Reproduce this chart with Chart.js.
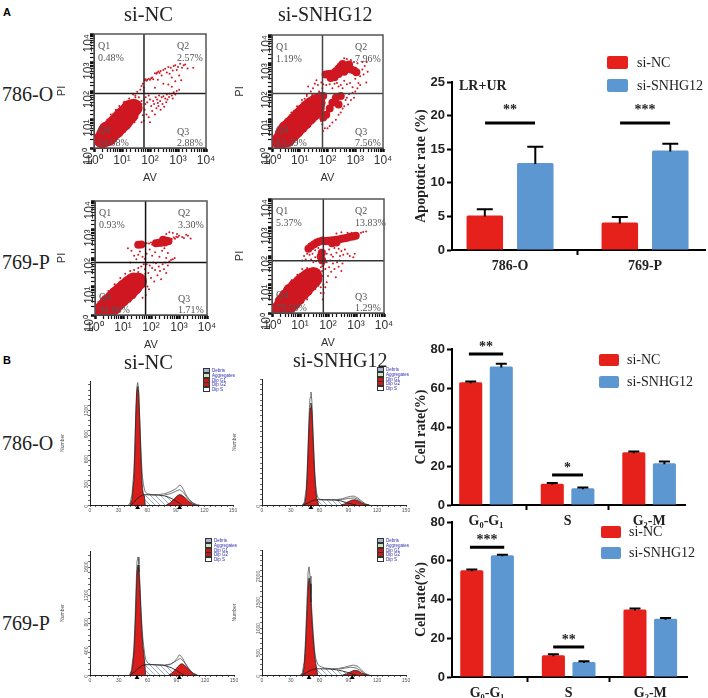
<!DOCTYPE html>
<html>
<head>
<meta charset="utf-8">
<title>si-SNHG12</title>
<script src="https://cdn.jsdelivr.net/npm/chart.js"></script>
<style>
  html, body { margin: 0; padding: 0; background: #fff; }
  #page { position: relative; width: 708px; height: 698px; overflow: hidden; }
  #page canvas { position: absolute; }
  .txt { position: absolute; white-space: nowrap; line-height: 1; transform: translateY(-50%); }
  .serif { font-family: "Liberation Serif", serif; color: #222; }
  .swatch { position: absolute; border-radius: 2px; }
  .tiny { font: 4.5px "Liberation Sans", sans-serif; color: #2b2bb0; }
  .tinybox { position: absolute; width: 5px; height: 3px; border: 1px solid #333; }
</style>
</head>
<body>
<div id="page"></div>
<script>
// --- bar chart data ---
const seriesNames = ['si-NC', 'si-SNHG12'];
const apoCats = ['786-O', '769-P'];
const apoNC = [5.15, 4.1];
const apoSN = [12.95, 14.8];
const apoNCErr = [0.9, 0.8];
const apoSNErr = [2.4, 1.0];
const cycleCats = ['G₀-G₁', 'S', 'G₂-M'];
const cyc786NC = [63, 10.9, 27];
const cyc786SN = [71, 8.6, 21.4];
const cyc786NCErr = [0.3, 0.4, 0.4];
const cyc786SNErr = [1.4, 0.4, 0.9];
const cyc769NC = [55.1, 11.2, 34.8];
const cyc769SN = [62.8, 7.8, 30.1];
const cyc769NCErr = [0.4, 0.5, 0.5];
const cyc769SNErr = [0.3, 0.3, 0.3];

// --- flow cytometry data, [AV, PI] ---
const decadeLabels = ['10⁰', '10¹', '10²', '10³', '10⁴'];

const a1Core = [[2,2],[2.5,3],[3.2,2.4],[3,4.2],[4.3,3.4],[4.5,5.5],[6,4.4],[6,7.5],[8,6],[8,10],[11,8],[10,13],[14,11],[14,17],[19,15],[19,24],[26,26]];
const a1Sparse = [[65,240],[70,260],[75,230],[80,250],[90,270],[100,250],[110,280],[120,300],[130,260],[150,420],[170,400],[180,450],[200,480],[220,430],[240,500],[190,250],[260,350],[300,550],[350,600],[400,450],[450,700],[500,400],[550,650],[600,300],[650,520],[700,750],[800,800],[900,550],[1000,700],[1200,900],[1400,650],[1600,800],[1800,850],[2200,620],[3500,650],[300,180],[450,170],[600,140],[800,220],[150,130],[1100,350],[1300,240],
  [70,60],[80,40],[90,70],[100,50],[110,30],[120,20],[130,45],[140,35],[150,15],[160,60],[170,25],[180,50],[190,38],[200,30],[210,70],[230,45],[240,22],[260,60],[280,35],[300,65],[320,28],[350,55],[380,40],[400,75],[420,50],[480,62],[500,80],[600,70],[650,55],[700,90],[800,75],[900,100],[1100,110],[90,12],[100,8],[75,15],[65,22],[68,35],[62,50],[60,9],[60,100],[60,130],[45,110],[35,95],[30,70],[25,40],[50,150],[55,180],[40,60],[50,45],
  [1.2,2],[1.3,1.3],[1.5,4],[2,6],[3,10],[4,15],[6,22],[8,30],[12,42],[18,55],[25,75],[30,60],[2.5,1.2],[4,1.5],[6,2],[9,3],[13,4],[20,6],[28,8],[35,12],[40,18],[45,25],[50,35],[55,14],[50,8],[42,40],[38,30],[33,45],[30,22],[36,20],[16,40],[22,44]];

const a2Core = [[2,1.8],[2.6,3],[3.4,2.2],[3.4,4.6],[5,3.2],[5,6.5],[7,4.5],[7,9],[10,6.5],[10,13],[14,9],[14,18],[20,13],[20,25],[28,18],[28,32],[38,26],[40,40]];
const a2Band = [[85,400],[110,420],[150,430],[200,520],[250,650],[300,800],[350,950],[450,800],[550,650],[700,600],[900,550],[1100,480],[600,900],[180,320],[130,300],[250,420],[400,500],[120,25],[150,40],[200,60],[90,15],[70,12],[60,40],[250,35],[300,70],[70,70],[55,70]];
const a2Sparse = [[60,210],[70,180],[45,170],[40,250],[35,190],[30,130],[25,100],[20,150],[18,80],[28,75],[15,55],[50,100],[65,130],[90,170],[120,180],[150,130],[180,190],[220,200],[250,150],[300,170],[350,130],[400,240],[500,180],[650,200],[800,140],[1000,280],[1300,200],[1500,350],[1800,600],[2200,800],[2600,1100],[1800,1100],[1200,1000],[900,1100],[700,1300],[500,1400],[400,1500],[2800,500],[2000,400],
  [600,80],[500,60],[800,90],[1000,100],[700,50],[400,30],[450,50],[350,25],[300,18],[250,15],[200,10],[150,8],[120,6],[100,5],[80,5],[70,4],[65,7],[1200,130],[1500,170],[2500,210],[900,60],[550,35],[1.2,1.2],[1.3,2],[1.6,3],[2,5],[3,9],[5,18],[8,30],[12,50],[18,70],[2.5,1.2],[4,1.4],[7,2],[11,3],[16,4],[24,6],[34,9],[45,12],[55,18],[58,9]];

const a3Core = [[1.6,1.3],[2.2,1.8],[3,1.5],[3,2.6],[4.4,2],[4.4,3.6],[6,2.8],[6,5],[8.5,3.8],[8.5,6.8],[12,5.2],[12,9],[17,7],[17,12],[24,10],[24,15],[34,15]];
const a3Band = [[35,290],[45,300],[150,330],[190,340],[230,340],[270,380],[310,350],[270,440],[360,400],[420,390]];
const a3Sparse = [[30,280],[38,260],[50,340],[60,310],[70,330],[85,320],[100,350],[110,300],[130,380],[160,270],[480,430],[550,460],[650,520],[720,470],[800,560],[900,530],[1000,600],[1300,550],[1500,500],[1800,650],[2100,600],[2600,480],[450,800],[350,700],[600,750],[850,700],[15,220],[20,180],[25,120],[18,70],[30,90],[35,130],[40,170],[50,110],[60,95],[70,140],[90,200],[110,120],[140,160],[200,110],[250,180],[300,220],[350,100],[400,150],
  [70,60],[80,30],[90,55],[100,20],[110,45],[120,70],[130,15],[140,38],[150,65],[170,25],[190,50],[210,35],[230,18],[260,60],[290,40],[320,70],[350,30],[400,55],[450,75],[520,85],[600,90],[700,100],[75,10],[85,8],[65,5],[62,15],[62,28],[60,40],[55,60],[45,50],[35,45],
  [1.1,1.1],[1.2,2],[1.5,3],[2,4.5],[3,7],[5,12],[8,20],[12,28],[18,35],[25,38],[35,32],[42,25],[48,18],[55,12],[2,1.05],[3,1.1],[5,1.2],[8,1.6],[12,2.2],[18,3],[25,4],[35,6],[45,9],[50,4]];

const a4Core = [[2,1.4],[2.6,2.4],[3.6,1.7],[3.6,3.6],[5.4,2.5],[5,5.5],[7.5,3.6],[7.5,8],[11,5.5],[11,11],[15,7.5],[15,14],[21,11],[21,18],[30,16],[30,20]];
const a4Band = [[65,350],[80,330],[100,340],[125,350],[155,360],[195,370],[245,380],[310,400],[390,420],[490,440],[620,470],[780,480],[980,510],[50,320],[40,300],[32,260],[25,220],[20,180],[140,280],[200,300],[60,130],[55,95],[62,70]];
const a4Sparse = [[1200,600],[1500,650],[1800,700],[2300,720],[700,650],[500,650],[300,680],[200,620],[18,120],[14,100],[12,70],[16,75],[22,110],[28,120],[35,160],[45,190],[25,75],[35,90],[45,110],[50,70],[38,65],[30,60],[75,150],[90,120],[110,170],[130,110],[150,95],[170,190],[200,130],[240,180],[270,100],[300,150],[350,110],[400,170],[500,120],[600,100],[800,90],[900,120],
  [70,50],[80,35],[90,60],[100,20],[110,40],[120,70],[130,28],[150,55],[170,35],[190,18],[210,60],[240,42],[260,70],[300,30],[330,55],[65,20],[68,10],[62,30],[62,45],[55,40],[48,30],[42,32],[70,5],[80,8],[90,12],[65,3],
  [1.3,1.2],[1.5,2],[1.8,3.5],[2.5,5],[3.5,9],[5,14],[8,22],[12,35],[18,38],[25,35],[38,28],[44,20],[50,14],[55,8],[2.5,1.05],[4,1.1],[6,1.3],[9,1.8],[13,2.4],[18,3],[25,5],[35,7],[45,9],[55,5]];

// --- cell cycle histograms, [channel, count] ---
const h1Total = [[40,0],[42,20],[44,120],[46,400],[47,700],[48,1100],[49,1400],[50,1470],[51,1400],[52,1100],[53,800],[54,520],[55,340],[56,250],[57,190],[58,160],[60,135],[65,125],[72,125],[78,135],[82,150],[86,170],[90,195],[92,215],[94,240],[96,225],[98,185],[100,140],[102,100],[104,70],[108,25],[112,5],[115,0]];
const h1Fit = [[78,120],[84,135],[90,165],[94,185],[98,150],[102,85],[106,35],[112,0]];
const h1G1 = [[42,0],[44,60],[46,300],[47,600],[48,1050],[49,1350],[50,1420],[51,1350],[52,1050],[53,700],[54,400],[55,200],[56,130],[57,110],[58,0]];
const h1G2 = [[80,0],[84,25],[88,70],[92,115],[94,125],[96,120],[100,85],[104,40],[108,10],[111,0]];
const h1S = [[43,0],[46,30],[49,70],[52,100],[55,120],[58,125],[65,120],[72,118],[78,110],[82,95],[86,75],[90,50],[94,20],[96,0]];

const h2Total = [[42,0],[44,50],[46,300],[47,650],[48,1150],[49,1700],[50,2050],[51,2156],[52,1980],[53,1500],[54,1050],[55,640],[56,380],[57,220],[58,150],[60,110],[65,100],[72,100],[78,105],[84,120],[88,145],[92,165],[96,170],[100,130],[104,70],[108,20],[112,0]];
const h2Fit = [[78,95],[84,105],[90,125],[96,135],[100,105],[104,50],[108,12],[112,0]];
const h2G1 = [[43,0],[45,60],[46,200],[47,500],[48,1000],[49,1500],[50,1850],[51,1945],[52,1800],[53,1350],[54,900],[55,520],[56,280],[57,130],[58,80],[59,0]];
const h2G2 = [[82,0],[86,20],[90,65],[94,95],[97,100],[100,80],[104,35],[108,8],[111,0]];
const h2S = [[43,0],[48,40],[52,80],[56,100],[65,100],[75,95],[82,80],[88,45],[94,15],[98,0]];

const h3Total = [[41,0],[43,60],[45,260],[46,480],[47,800],[48,1250],[49,1600],[50,1662],[51,1560],[52,1300],[53,980],[54,720],[55,520],[56,400],[57,290],[58,220],[60,170],[63,150],[70,140],[78,140],[84,155],[88,190],[91,240],[93,285],[95,265],[97,225],[99,170],[102,110],[105,55],[108,20],[112,0]];
const h3Fit = [[78,135],[84,150],[90,200],[94,235],[98,185],[102,100],[106,35],[110,0]];
const h3G1 = [[42,0],[44,80],[46,350],[47,650],[48,1050],[49,1450],[50,1550],[51,1450],[52,1200],[53,880],[54,620],[55,420],[56,300],[57,170],[58,0]];
const h3G2 = [[82,0],[85,25],[88,60],[91,110],[94,150],[96,160],[99,130],[102,90],[105,50],[108,15],[111,0]];
const h3S = [[42,0],[46,40],[50,90],[54,130],[57,145],[65,145],[75,140],[80,125],[85,100],[90,65],[94,30],[98,0]];

const h4Total = [[40,0],[42,40],[44,260],[45,560],[46,1000],[47,1500],[48,1980],[49,2077],[50,1900],[51,1550],[52,1200],[53,900],[54,650],[55,440],[56,320],[58,210],[60,170],[65,135],[72,120],[80,125],[86,150],[90,170],[95,190],[100,165],[104,85],[108,25],[112,0]];
const h4Fit = [[80,115],[86,130],[92,150],[98,135],[102,90],[106,35],[110,0]];
const h4G1 = [[41,0],[43,50],[44,180],[45,420],[46,800],[47,1250],[48,1700],[49,1865],[50,1750],[51,1400],[52,1050],[53,780],[54,540],[55,350],[56,220],[57,120],[58,0]];
const h4G2 = [[84,0],[88,20],[92,60],[96,90],[100,80],[104,35],[108,8],[110,0]];
const h4S = [[42,0],[46,40],[50,85],[54,115],[60,120],[70,115],[78,100],[84,75],[90,45],[95,15],[98,0]];

const histLegend = ['Debris', 'Aggregates', 'Dip G1', 'Dip G2', 'Dip S'];
const histLegendFill = ['#aab4d0', '#cfe3bf', '#c81a1a', '#c81a1a', '#fff'];

const RED = '#e6211b';
const BLUE = '#5c97d2';
const DOT = '#cf1722';
const SERIF = '"Liberation Serif", serif';
const SANS = '"Liberation Sans", sans-serif';
const page = document.getElementById('page');

Chart.defaults.animation = false;
Chart.defaults.responsive = false;
Chart.defaults.events = [];
Chart.defaults.plugins.legend.display = false;
Chart.defaults.plugins.tooltip.enabled = false;

function newCanvas(left, top, w, h) {
    const c = document.createElement('canvas');
    c.width = w; c.height = h;
    c.style.left = left + 'px'; c.style.top = top + 'px';
    c.style.width = w + 'px'; c.style.height = h + 'px';
    page.appendChild(c);
    return c;
}

function addText(str, x, y, size, extra) {
    const d = document.createElement('div');
    d.className = 'txt serif';
    d.textContent = str;
    d.style.left = x + 'px';
    d.style.top = y + 'px';
    d.style.fontSize = size + 'px';
    if (extra) d.style.cssText += extra;
    page.appendChild(d);
}

function addLegend(x, textX, y1, y2, w, h) {
    [RED, BLUE].forEach((col, i) => {
        const y = i ? y2 : y1;
        const s = document.createElement('div');
        s.className = 'swatch';
        s.style.cssText = `left:${x}px;top:${y}px;width:${w}px;height:${h}px;background:${col}`;
        page.appendChild(s);
        addText(seriesNames[i], textX, y + h / 2, 14);
    });
}

function addHistLegend(x, y) {
    histLegend.forEach((name, i) => {
        const yy = y + i * 4.75;
        const b = document.createElement('div');
        b.className = 'tinybox';
        b.style.left = x + 'px';
        b.style.top = (yy - 2) + 'px';
        b.style.background = histLegendFill[i];
        page.appendChild(b);
        const t = document.createElement('div');
        t.className = 'txt tiny';
        t.textContent = name;
        t.style.left = (x + 9) + 'px';
        t.style.top = yy + 'px';
        page.appendChild(t);
    });
}

// frame and Q1..Q4 text of the flow plots
const quadPlugin = {
    id: 'quad',
    afterDraw(chart, args, opts) {
        const { ctx, chartArea: a } = chart;
        ctx.save();
        ctx.strokeStyle = '#555';
        ctx.lineWidth = 1.5;
        ctx.strokeRect(a.left, a.top, a.right - a.left, a.bottom - a.top);
        ctx.font = '10px ' + SERIF;
        ctx.fillStyle = '#555';
        ctx.textBaseline = 'middle';
        const rx = a.left + 83;
        ctx.fillText('Q1', a.left + 4, a.top + 12);
        ctx.fillText(opts.q[0], a.left + 4, a.top + 24);
        ctx.fillText('Q2', rx, a.top + 12);
        ctx.fillText(opts.q[1], rx, a.top + 24);
        ctx.fillText('Q3', rx, a.bottom - 16);
        ctx.fillText(opts.q[2], rx, a.bottom - 5);
        ctx.fillText('Q4', a.left + 4, a.bottom - 18);
        ctx.fillText(opts.q[3], a.left + 4, a.bottom - 5);
        ctx.restore();
    }
};

function flowPlot(cfg) {
    const c = newCanvas(cfg.left, cfg.top, cfg.w, cfg.h);
    const isDecade = v => Number.isInteger(Math.round(Math.log10(v) * 1e6) / 1e6);
    const logAxis = (title, size, rot) => ({
        type: 'logarithmic', min: 1, max: 10000,
        afterFit: s => { if (rot) s.width = size; else s.height = size; },
        border: { color: '#222', width: 1 },
        grid: {
            drawOnChartArea: false, tickLength: 4, tickColor: '#111',
            tickWidth: ctx => (ctx.tick && isDecade(ctx.tick.value) ? 2.5 : 1.2)
        },
        ticks: {
            autoSkip: false, padding: 1, color: '#333', minRotation: rot ? 90 : 0, maxRotation: rot ? 90 : 0,
            font: { family: SANS, size: 12 },
            callback: v => (isDecade(v) ? decadeLabels[Math.round(Math.log10(v))] : '')
        },
        title: { display: true, text: title, color: '#333', font: { family: SANS, size: 11 }, padding: 0 }
    });
    const datasets = [
        { type: 'line', data: [[cfg.gx, 1], [cfg.gx, 10000]], borderColor: cfg.gate, borderWidth: 1.5, pointRadius: 0 },
        { type: 'line', data: [[1, cfg.gy], [10000, cfg.gy]], borderColor: cfg.gate, borderWidth: 1.5, pointRadius: 0 },
        { data: cfg.sparse, pointRadius: 1, backgroundColor: DOT, pointBorderWidth: 0 },
        { data: cfg.band, pointRadius: 4, backgroundColor: DOT, pointBorderWidth: 0 },
        { data: cfg.core, pointRadius: 9, backgroundColor: DOT, pointBorderWidth: 0 }
    ];
    new Chart(c, {
        type: 'scatter',
        data: { datasets },
        plugins: [quadPlugin],
        options: {
            layout: { padding: { top: cfg.padTop, right: cfg.padRight } },
            plugins: { quad: { q: cfg.q } },
            scales: { x: logAxis('AV', cfg.xH, false), y: logAxis('PI', cfg.yW, true) }
        }
    });
}

function hatch(ctx) {
    const p = document.createElement('canvas');
    p.width = 5; p.height = 5;
    const g = p.getContext('2d');
    g.strokeStyle = '#7f97c4';
    g.lineWidth = 0.8;
    g.beginPath();
    g.moveTo(-1, -1); g.lineTo(6, 6);
    g.moveTo(-1, 4); g.lineTo(1, 6);
    g.moveTo(4, -1); g.lineTo(6, 1);
    g.stroke();
    return ctx.createPattern(p, 'repeat');
}

function histPlot(cfg) {
    const c = newCanvas(cfg.left, cfg.top, cfg.w, cfg.h);
    const ctx = c.getContext('2d');
    const line = (data, extra) => Object.assign({ data, pointRadius: 0, borderWidth: 0.8, borderColor: '#222', tension: 0, order: 0 }, extra);
    const tiny = { family: SANS, size: 5 };
    new Chart(c, {
        type: 'line',
        data: {
            datasets: [
                { type: 'scatter', data: cfg.marks, pointStyle: 'triangle', pointRadius: 2.8, backgroundColor: '#000', borderWidth: 0, clip: false },
                line(cfg.s, { borderWidth: 0.9 }),
                line(cfg.g1, { fill: 'origin', backgroundColor: '#d81d1a' }),
                line(cfg.g2, { fill: 'origin', backgroundColor: '#d81d1a' }),
                line(cfg.s, { fill: 'origin', backgroundColor: hatch(ctx), borderWidth: 0 }),
                line(cfg.fit, { borderColor: '#555' }),
                line(cfg.total, { fill: 'origin', backgroundColor: '#fff', borderColor: '#555' })
            ]
        },
        options: {
            layout: { padding: { top: cfg.padTop, right: cfg.padRight } },
            scales: {
                x: {
                    type: 'linear', min: 0, max: 150,
                    afterFit: s => { s.height = cfg.xH; },
                    border: { color: '#222', width: 1 },
                    grid: { drawOnChartArea: false, tickLength: 2, tickColor: '#222', tickWidth: 0.7 },
                    ticks: { stepSize: 6, autoSkip: false, maxRotation: 0, padding: 1, color: '#555', font: tiny, callback: v => (v % 30 === 0 ? v : '') }
                },
                y: {
                    min: 0, max: cfg.yMax,
                    afterFit: s => { s.width = cfg.yW; },
                    border: { color: '#222', width: 1 },
                    grid: { drawOnChartArea: false, tickLength: 2, tickColor: '#222', tickWidth: 0.7 },
                    ticks: { stepSize: cfg.major / 5, includeBounds: false, autoSkip: false, minRotation: 90, maxRotation: 90, padding: 1, color: '#555', font: tiny, callback: v => (v % cfg.major === 0 ? v : '') },
                    title: { display: true, text: 'Number', color: '#555', font: tiny, padding: 0 }
                }
            }
        }
    });
}

// whiskers above the bars and the stars over the significance lines
const barPlugin = {
    id: 'barExtras',
    afterDatasetsDraw(chart, args, opts) {
        const { ctx, scales: { x, y } } = chart;
        ctx.save();
        ctx.strokeStyle = '#000';
        ctx.lineWidth = 2;
        opts.errs.forEach((errs, di) => {
            chart.getDatasetMeta(di).data.forEach((bar, i) => {
                const top = y.getPixelForValue(opts.vals[di][i] + errs[i]);
                ctx.beginPath();
                ctx.moveTo(bar.x, bar.y + 1);
                ctx.lineTo(bar.x, top);
                ctx.moveTo(bar.x - opts.cap, top);
                ctx.lineTo(bar.x + opts.cap, top);
                ctx.stroke();
            });
        });
        ctx.fillStyle = '#222';
        ctx.textAlign = 'center';
        ctx.textBaseline = 'alphabetic';
        ctx.font = 'bold 14px ' + SERIF;
        opts.sig.forEach(s => {
            ctx.fillText(s.stars, x.getPixelForValue(s.at), y.getPixelForValue(s.y) - opts.starGap);
        });
        ctx.restore();
    }
};

function barPlot(cfg) {
    const c = newCanvas(cfg.left, cfg.top, cfg.w, cfg.h);
    const toXY = arr => arr.map((v, i) => ({ x: i + 1, y: v }));
    const bar = (vals, col) => ({
        data: toXY(vals), backgroundColor: col, borderRadius: 1.5, borderSkipped: 'bottom',
        categoryPercentage: cfg.catPct, barPercentage: cfg.barPct
    });
    const sigLines = cfg.sig.map(s => ({
        type: 'line', data: [[s.at - s.half, s.y], [s.at + s.half, s.y]],
        borderColor: '#000', borderWidth: 3, pointRadius: 0
    }));
    new Chart(c, {
        type: 'bar',
        data: { datasets: [bar(cfg.vals[0], RED), bar(cfg.vals[1], BLUE)].concat(sigLines) },
        plugins: [barPlugin],
        options: {
            layout: { padding: { top: cfg.padTop, right: cfg.padRight } },
            plugins: { barExtras: { errs: cfg.errs, vals: cfg.vals, sig: cfg.sig, cap: cfg.cap, starGap: cfg.starGap } },
            scales: {
                x: {
                    type: 'linear', min: cfg.xMin, max: cfg.xMax, offset: false,
                    afterFit: s => { s.height = cfg.xH; },
                    afterBuildTicks: s => { s.ticks = cfg.cats.map((n, i) => ({ value: i + 1 })); },
                    border: { color: '#000', width: 2 },
                    grid: { drawOnChartArea: false, tickLength: 5, tickColor: '#000', tickWidth: 2 },
                    ticks: { autoSkip: false, maxRotation: 0, padding: 3, color: '#222', font: { family: SERIF, size: 14, weight: 'bold' }, callback: v => cfg.cats[v - 1] }
                },
                y: {
                    min: 0, max: cfg.yMax,
                    afterFit: s => { s.width = cfg.yW; },
                    border: { color: '#000', width: 2 },
                    grid: { drawOnChartArea: false, tickLength: 5, tickColor: '#000', tickWidth: 2 },
                    ticks: { stepSize: cfg.step, padding: 2, color: '#222', font: { family: SANS, size: 13, weight: 'bold' } },
                    title: { display: true, text: cfg.yTitle, color: '#222', font: { family: SERIF, size: 14, weight: 'bold' }, padding: { top: cfg.titlePad, bottom: 0 } }
                }
            }
        }
    });
}

// Panel A, flow plots
flowPlot({ left: 55, top: 20, w: 165, h: 165, yW: 39, xH: 37, padTop: 14, padRight: 14, gx: 61, gy: 82, gate: '#222', core: a1Core, band: [], sparse: a1Sparse, q: ['0.48%', '2.57%', '2.88%', '94.08%'] });
flowPlot({ left: 233, top: 20, w: 165, h: 165, yW: 39, xH: 37, padTop: 15, padRight: 15, gx: 66, gy: 85, gate: '#444', core: a2Core, band: a2Band, sparse: a2Sparse, q: ['1.19%', '7.96%', '7.56%', '83.29%'] });
flowPlot({ left: 55, top: 187, w: 165, h: 165, yW: 40, xH: 37, padTop: 14, padRight: 13, gx: 64, gy: 70, gate: '#111', core: a3Core, band: a3Band, sparse: a3Sparse, q: ['0.93%', '3.30%', '1.71%', '94.06%'] });
flowPlot({ left: 233, top: 185, w: 165, h: 165, yW: 39, xH: 37, padTop: 14, padRight: 14, gx: 68, gy: 68, gate: '#333', core: a4Core, band: a4Band, sparse: a4Sparse, q: ['5.37%', '13.83%', '1.29%', '79.50%'] });

// Panel A, bars
barPlot({
    left: 400, top: 65, w: 308, h: 215, yW: 52, xH: 30, padTop: 17, padRight: 3,
    xMin: 0.57, xMax: 2.444, catPct: 0.748, barPct: 0.723, yMax: 25, step: 5, cap: 8, starGap: 9, titlePad: 13,
    cats: apoCats, vals: [apoNC, apoSN], errs: [apoNCErr, apoSNErr], yTitle: 'Apoptotic rate (%)',
    sig: [{ at: 1, half: 0.185, y: 18.9, stars: '**' }, { at: 2, half: 0.185, y: 18.9, stars: '***' }]
});

// Panel B, histograms
histPlot({ left: 60, top: 370, w: 185, h: 160, yW: 30, xH: 25, padTop: 11, padRight: 12, yMax: 1488, major: 300, total: h1Total, fit: h1Fit, g1: h1G1, g2: h1G2, s: h1S, marks: [[50, -30], [94, -30]] });
histPlot({ left: 232, top: 370, w: 186, h: 160, yW: 30, xH: 25, padTop: 9, padRight: 12, yMax: 2405, major: 500, total: h2Total, fit: h2Fit, g1: h2G1, g2: h2G2, s: h2S, marks: [[51, -50]] });
histPlot({ left: 60, top: 540, w: 186, h: 158, yW: 30, xH: 23, padTop: 11, padRight: 12, yMax: 1746, major: 400, total: h3Total, fit: h3Fit, g1: h3G1, g2: h3G2, s: h3S, marks: [[49, -35], [93, -35]] });
histPlot({ left: 232, top: 540, w: 186, h: 158, yW: 30, xH: 23, padTop: 10, padRight: 12, yMax: 2400, major: 500, total: h4Total, fit: h4Fit, g1: h4G1, g2: h4G2, s: h4S, marks: [[49, -50], [94, -50]] });

// Panel B, bars
barPlot({
    left: 400, top: 335, w: 308, h: 195, yW: 52, xH: 25, padTop: 14, padRight: 23,
    xMin: 0.583, xMax: 3.44, catPct: 0.75, barPct: 0.754, yMax: 80, step: 20, cap: 5.5, starGap: 3, titlePad: 13,
    cats: cycleCats, vals: [cyc786NC, cyc786SN], errs: [cyc786NCErr, cyc786SNErr], yTitle: 'Cell rate(%)',
    sig: [{ at: 1, half: 0.21, y: 77.4, stars: '**' }, { at: 2, half: 0.19, y: 15.4, stars: '*' }]
});
barPlot({
    left: 400, top: 510, w: 308, h: 188, yW: 52, xH: 21, padTop: 12, padRight: 21,
    xMin: 0.57, xMax: 3.45, catPct: 0.75, barPct: 0.754, yMax: 80, step: 20, cap: 5.5, starGap: 3, titlePad: 13,
    cats: cycleCats, vals: [cyc769NC, cyc769SN], errs: [cyc769NCErr, cyc769SNErr], yTitle: 'Cell rate(%)',
    sig: [{ at: 1, half: 0.21, y: 67, stars: '***' }, { at: 2, half: 0.19, y: 15.5, stars: '**' }]
});

// Titles, row names, legends
addText('A', 3, 12, 11, `font-family:${SANS};font-weight:bold;color:#000`);
addText('B', 3, 360, 11, `font-family:${SANS};font-weight:bold;color:#000`);
addText('si-NC', 124, 14, 20.5);
addText('si-SNHG12', 278, 14, 20);
addText('si-NC', 124, 362, 20.5);
addText('si-SNHG12', 293, 360, 20);
addText('786-O', 2, 94, 20);
addText('769-P', 2, 262, 20);
addText('786-O', 2, 443, 20);
addText('769-P', 2, 623, 20);
addText('LR+UR', 459, 86, 14, 'font-weight:bold');
addLegend(607, 637, 56, 79, 21, 13);
addLegend(599, 627, 354, 376, 20, 12);
addLegend(601, 629, 526, 547, 20, 12);
addHistLegend(203, 370);
addHistLegend(377, 369);
addHistLegend(205, 540);
addHistLegend(377, 540);
</script>
</body>
</html>
